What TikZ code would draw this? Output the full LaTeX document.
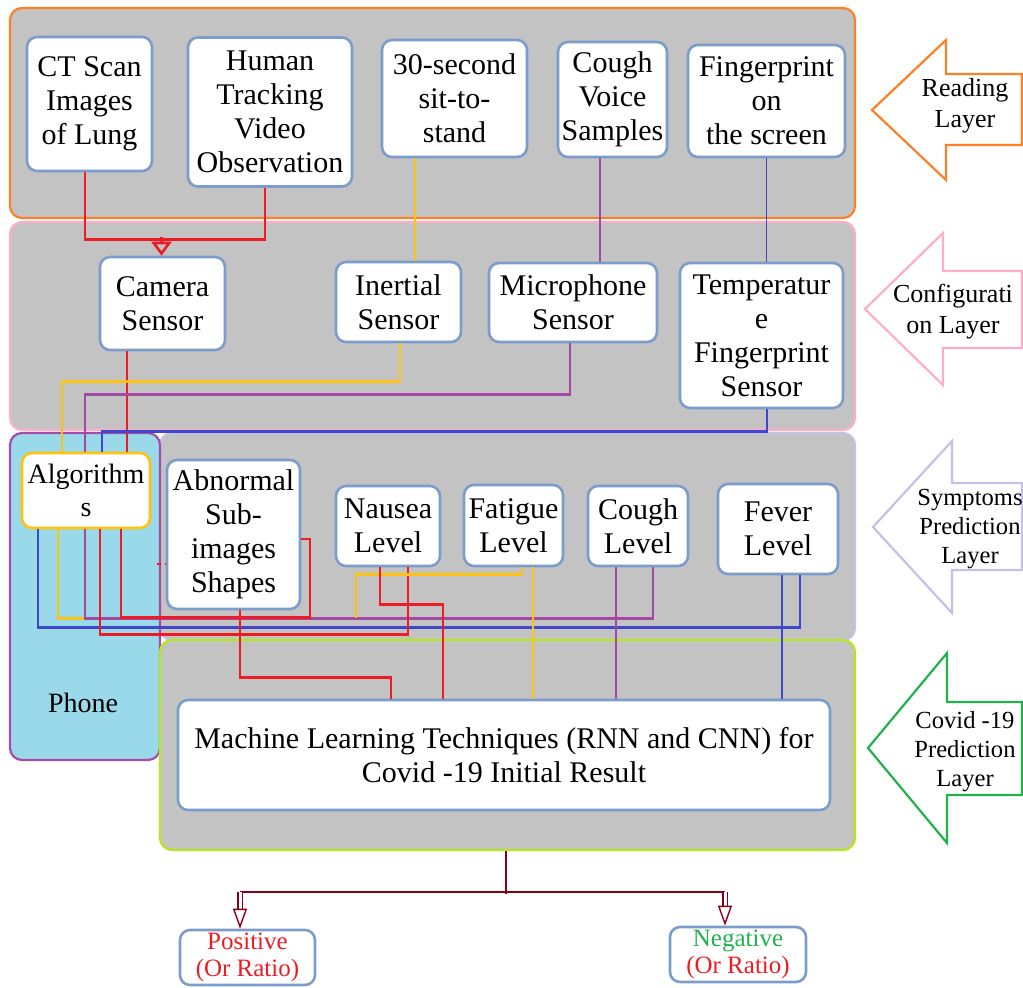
\documentclass[tikz,border=0pt]{standalone}
\usepackage{fontspec}
\setmainfont{Liberation Serif}
\usepackage{xcolor}
\usetikzlibrary{calc, positioning, arrows.meta}

\definecolor{layergray}{HTML}{C3C3C3}
\definecolor{boxblue}{HTML}{7C9CCB}
\definecolor{phoneblue}{HTML}{99D9EA}
\definecolor{phonepurple}{HTML}{A54CA8}
\definecolor{lred}{HTML}{ED1C24}
\definecolor{lyellow}{HTML}{FFC20E}
\definecolor{lpurple}{HTML}{A349A4}
\definecolor{lblue}{HTML}{3F48CC}
\definecolor{darkred}{HTML}{880015}
\definecolor{orangeL}{HTML}{FF7F27}
\definecolor{pinkL}{HTML}{FFAEC9}
\definecolor{lavL}{HTML}{C8BFE7}
\definecolor{limeL}{HTML}{B5E61D}
\definecolor{greenA}{HTML}{22B14C}

\begin{document}
\begin{tikzpicture}[x=0.5pt, y=-0.5pt,
    box/.style={draw=boxblue, line width=1.3pt, rounded corners=5pt, fill=white, align=center, inner sep=0pt, font=\fontsize{15}{17}\selectfont},
    sz/.style 2 args={minimum width=#1*0.5pt, minimum height=#2*0.5pt},
    layer/.style={draw=#1, line width=1.1pt, rounded corners=6pt, fill=layergray, inner sep=0pt},
    tag/.style={align=center, inner sep=0pt, font=\fontsize{13}{15.5}\selectfont},
    redln/.style={draw=lred, line width=1.3pt},
    yelln/.style={draw=lyellow, line width=1.3pt},
    purln/.style={draw=lpurple, line width=1.3pt},
    bluln/.style={draw=lblue, line width=1.3pt},
    outln/.style={draw=darkred, line width=1.2pt},
    outarr/.style={draw=darkred, line width=0.7pt, double=white, double distance=1.5pt, -{Triangle[open, width=7pt, length=10pt]}}]

    \useasboundingbox (0,0) rectangle (1023,987);

    % Layers
    \node[layer=orangeL, sz={845}{210}] (reading) at (432.5,113) {};
    \node[layer=pinkL, sz={845}{208}] (config) at (432.5,326) {};
    \node[layer=lavL, sz={695}{207}] (symptoms) at (507.5,536.5) {};
    \node[layer=phonepurple, fill=phoneblue, sz={150}{327}] (phone) at (85,596.5) {};
    \node[layer=limeL, sz={695}{210}] (covid) at (507.5,745) {};
    \node[tag, font=\fontsize{14}{17}\selectfont] (phonetxt) at (83,703) {Phone};

    % Layer arrows on the right
    \draw[orangeL, line width=1.1pt] (872,110) -- (946,40) -- (946,74) -- (1022,74) -- (1022,145) -- (946,145) -- (946,180) -- cycle;
    \draw[pinkL, line width=1.1pt] (865,309) -- (943,233) -- (943,271) -- (1022,271) -- (1022,348) -- (943,348) -- (943,385) -- cycle;
    \draw[lavL, line width=1.1pt] (873,527) -- (952,441) -- (952,483) -- (1022,483) -- (1022,570) -- (952,570) -- (952,613) -- cycle;
    \draw[greenA, line width=1.1pt] (868,748) -- (947,653) -- (947,702) -- (1022,702) -- (1022,795) -- (947,795) -- (947,843) -- cycle;
    \node[tag] (readtag) at (965,106) {Reading\\Layer};
    \node[tag] (conftag) at (953,312) {Configurati\\on Layer};
    \node[tag, font=\fontsize{12.3}{14.5}\selectfont] (symptag) at (970,529) {Symptoms\\Prediction\\Layer};
    \node[tag, font=\fontsize{12.3}{14.5}\selectfont] (covtag) at (965,752) {Covid -19\\Prediction\\Layer};

    % Reading layer
    \node[box, sz={125}{134}] (ct) at (89.5,104) {CT Scan\\Images\\of Lung};
    \node[box, sz={164}{149}] (human) at (270,112) {Human\\Tracking\\Video\\Observation};
    \node[box, sz={145}{117}] (sit) at (454.5,98.5) {30-second\\sit-to-\\stand};
    \node[box, sz={109}{115}] (voice) at (612.5,99.5) {Cough\\Voice\\Samples};
    \node[box, sz={157}{112}] (finger) at (766.5,101) {Fingerprint\\on\\the screen};

    % Configuration layer
    \node[box, sz={125}{93}] (camera) at (162.5,303.5) {Camera\\Sensor};
    \node[box, sz={125}{80}] (inertial) at (398.5,302) {Inertial\\Sensor};
    \node[box, sz={168}{79}] (micro) at (573,302.5) {Microphone\\Sensor};
    \node[box, sz={163}{145}] (temp) at (761.5,335.5) {Temperatur\\e\\Fingerprint\\Sensor};

    % Symptoms prediction layer
    \node[box, draw=lyellow, font=\fontsize{14}{16.5}\selectfont, sz={128}{75}] (algo) at (86,490.5) {Algorithm\\s};
    \node[box, sz={133}{149}] (abnormal) at (233.5,534.5) {Abnormal\\Sub-\\images\\Shapes};
    \node[box, sz={104}{80}] (nausea) at (388,526) {Nausea\\Level};
    \node[box, sz={99}{81}] (fatigue) at (513.5,525.5) {Fatigue\\Level};
    \node[box, sz={100}{80}] (coughlvl) at (638,526) {Cough\\Level};
    \node[box, sz={120}{90}] (fever) at (778,529) {Fever\\Level};

    % Covid -19 prediction layer
    \node[box, sz={652}{110}] (ml) at (504,755) {Machine Learning Techniques (RNN and CNN) for\\Covid -19 Initial Result};

    % Results
    \node[box, text=lred, font=\fontsize{12.5}{13.5}\selectfont, sz={135}{55}] (pos) at (247.5,957.5) {Positive\\(Or Ratio)};
    \node[box, text=lred, font=\fontsize{12.5}{13.5}\selectfont, sz={136}{55}] (neg) at (738,954.5) {\textcolor{greenA}{Negative}\\(Or Ratio)};

    % Reading -> Configuration
    \draw[redln] ($(ct.south)+(-4.5,0)$) -- ++(0,67) -| ($(human.south)+(-5,0)$);
    \draw[redln, -{Triangle[open, width=10pt, length=7pt]}] ($(camera.north)+(-1,-19)$) -- ($(camera.north)+(-1,0)$);
    \draw[yelln, line width=0.8pt] ($(sit.south)+(-39.5,0)$) -- ($(inertial.north)+(16.5,0)$);
    \draw[purln, line width=0.8pt] ($(voice.south)+(-12.5,0)$) -- ($(micro.north)+(27,0)$);
    \draw[bluln, line width=0.8pt] (finger.south) -- (finger.south |- temp.north);

    % Configuration -> Algorithms
    \draw[redln] ($(camera.south)+(-35.5,0)$) -- ($(algo.north)+(41,0)$);
    \draw[yelln] ($(inertial.south)+(1.5,0)$) -- ++(0,38) -| ($(algo.north)+(-24,0)$);
    \draw[purln] ($(micro.south)+(-3,0)$) -- ++(0,51) -| ($(algo.north)+(-1,0)$);
    \draw[bluln] ($(temp.south)+(5.5,0)$) -- ++(0,22) -| ($(algo.north)+(16,0)$);

    % Algorithms -> symptoms
    \draw[bluln] ($(algo.south)+(-48,0)$) -- ++(0,98) -| ($(fever.south)+(22,0)$);
    \draw[yelln] ($(algo.south)+(-28,0)$) -- ++(0,89) -- ++(27,0);
    \draw[purln] ($(algo.south)+(-1,0)$) -- ++(0,89) -| ($(coughlvl.south)+(15,0)$);
    \draw[redln] ($(algo.south)+(14,0)$) -- ++(0,105) -| ($(nausea.south)+(20,0)$);
    \draw[redln] ($(algo.south)+(35,0)$) -- ++(0,88) -- ++(189,0) |- ($(abnormal.east)+(0,4.5)$);
    \draw[redln, dash pattern=on 2pt off 2pt] ($(abnormal.west)+(-9,29.5)$) -- ($(abnormal.west)+(0,29.5)$);
    \draw[yelln] ($(fatigue.south)+(8.5,0)$) -- ++(0,7) -- ++(-166,0) -- ++(0,44);

    % Symptoms -> Machine Learning
    \draw[redln] ($(abnormal.south)+(6.5,0)$) -- ++(0,67) -| ($(ml.north)+(-113,0)$);
    \draw[redln] ($(nausea.south)+(-8,0)$) -- ++(0,37) -| ($(ml.north)+(-61,0)$);
    \draw[yelln] ($(fatigue.south)+(19.5,0)$) -- ($(ml.north)+(29,0)$);
    \draw[purln] ($(coughlvl.south)+(-22,0)$) -- ($(ml.north)+(112,0)$);
    \draw[bluln] ($(fever.south)+(4,0)$) -- ($(ml.north)+(278,0)$);

    % Result
    \draw[outln] ($(covid.south)+(-1.5,0)$) -- ++(0,43) coordinate (split);
    \draw[outln] ($(pos.north)+(-7.5,-37)$) -- ($(neg.north)+(-13,-34)$);
    \draw[outarr] ($(pos.north)+(-7.5,-37)$) -- ($(pos.north)+(-7.5,0)$);
    \draw[outarr] ($(neg.north)+(-13,-34)$) -- ($(neg.north)+(-13,0)$);
\end{tikzpicture}
\end{document}
